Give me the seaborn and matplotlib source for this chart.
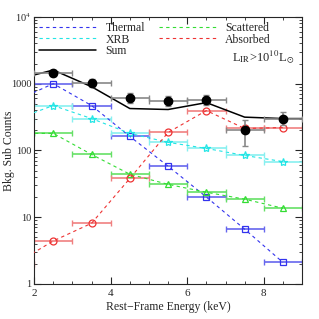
import numpy as np
import pandas as pd
import matplotlib
matplotlib.use("Agg")
import matplotlib.pyplot as plt
import seaborn as sns
from matplotlib.ticker import FixedLocator, NullFormatter, LogLocator
from matplotlib.lines import Line2D

# bin centres (keV); the 1.5 keV bin sits just off the left edge
energy = [1.5, 2.5, 3.5, 4.5, 5.5, 6.5, 7.5, 8.5]
thermal = [550, 1000, 470, 162, 58, 20, 6.6, 2.1]
xrb = [290, 470, 300, 180, 132, 107, 84, 68]
scattered = [180, 180, 87, 44, 31, 23.6, 18.6, 13.6]
absorbed = [2.0, 4.4, 8.1, 38, 186, 395, 213, 220]
model_sum = [1140, 1600, 900, 424, 410, 520, 315, 300]

obs_energy = [2.5, 3.5, 4.5, 5.5, 6.5, 7.5, 8.5]
obs_counts = [1460, 1035, 620, 557, 575, 200, 300]
obs_err_lo = [140, 130, 100, 90, 90, 85, 60]
obs_err_hi = [150, 140, 110, 100, 100, 90, 70]

sns.set_style("ticks")
plt.rcParams['font.family'] = ['Liberation Serif', 'DejaVu Serif']
plt.rcParams['mathtext.fontset'] = 'stix'

fig = plt.figure(figsize=(3.19, 3.19), dpi=100)
ax = fig.add_axes([0.107, 0.110, 0.840, 0.837])

comps = {'Thermal': thermal, 'XRB': xrb, 'Scattered': scattered, 'Absorbed': absorbed}
colors = {'Thermal': '#3333ee', 'XRB': '#22e5e5', 'Scattered': '#33dd33', 'Absorbed': '#ee3333'}
barcol = {'Thermal': '#6666ee', 'XRB': '#88f0f0', 'Scattered': '#66e066', 'Absorbed': '#f08080'}
marks = {'Thermal': 's', 'XRB': '*', 'Scattered': '^', 'Absorbed': 'o'}

df = pd.concat([pd.DataFrame({'E': energy, 'counts': v, 'comp': k}) for k, v in comps.items()])

# horizontal bin-width bars
for k, v in comps.items():
    ax.errorbar(energy, v, xerr=0.5, fmt='none', ecolor=barcol[k], elinewidth=1.2,
                capsize=2, capthick=1, zorder=2)

sns.lineplot(data=df, x='E', y='counts', hue='comp', palette=colors,
             linestyle=(0, (3, 3)), linewidth=0.8, ax=ax, legend=False, zorder=3)
for k, v in comps.items():
    ax.plot(energy, v, linestyle='none', marker=marks[k], mfc='none', mec=colors[k],
            ms=6 if k == 'XRB' else 5, mew=0.9, zorder=4)

sns.lineplot(x=energy + [9.5], y=model_sum + [300], color='black', linewidth=1.1, ax=ax, zorder=5)

ax.errorbar(obs_energy, obs_counts, xerr=0.5, yerr=[obs_err_lo, obs_err_hi], fmt='none',
            ecolor='#888888', elinewidth=1.2, capsize=2.5, capthick=1, zorder=5)
ax.plot(obs_energy, obs_counts, 'o', color='black', ms=6, zorder=6)

ax.set_yscale('log')
ax.set_xlim(2, 9)
ax.set_ylim(1, 1e4)
ax.xaxis.set_major_locator(FixedLocator([2, 4, 6, 8]))
ax.xaxis.set_minor_locator(FixedLocator(np.arange(2, 9.01, 0.5)))
ax.yaxis.set_major_locator(FixedLocator([1, 10, 100, 1000, 1e4]))
ax.yaxis.set_minor_locator(LogLocator(base=10, subs=np.arange(2, 10)))
ax.yaxis.set_minor_formatter(NullFormatter())
ax.set_yticklabels(['1', '10', '100', '1000', r'10$^4$'])
ax.tick_params(which='both', direction='in', top=True, right=True, labelsize=8)
ax.tick_params(axis='y', pad=2, labelsize=7.5)
ax.tick_params(which='major', length=5)
ax.tick_params(which='minor', length=2.5)
for s in ax.spines.values():
    s.set_linewidth(0.8)

ax.set_xlabel('Rest\u2212Frame Energy (keV)', fontsize=8.5, labelpad=2)
ax.set_ylabel('Bkg. Sub Counts', fontsize=8.5)
ax.yaxis.set_label_coords(-0.072, 0.5)

h = [Line2D([], [], color=colors['Thermal'], ls=(0, (3, 3)), lw=0.8),
     Line2D([], [], color=colors['XRB'], ls=(0, (3, 3)), lw=0.8),
     Line2D([], [], color='black', lw=1.1),
     Line2D([], [], color=colors['Scattered'], ls=(0, (3, 3)), lw=0.8),
     Line2D([], [], color=colors['Absorbed'], ls=(0, (3, 3)), lw=0.8)]
ax.legend(h, ['Thermal', 'XRB', 'Sum', 'Scattered', 'Absorbed'], ncol=2, loc='upper left',
          frameon=False, fontsize=8.5, handlelength=4.8, labelspacing=-0.05,
          columnspacing=1.2, borderaxespad=0.05, handletextpad=0.8)
ax.text(0.74, 0.85, r'L$_{\rm IR}$>10$^{10}$L$_{\odot}$', transform=ax.transAxes,
        fontsize=9, va='center')

fig.savefig('out.png', dpi=100)
